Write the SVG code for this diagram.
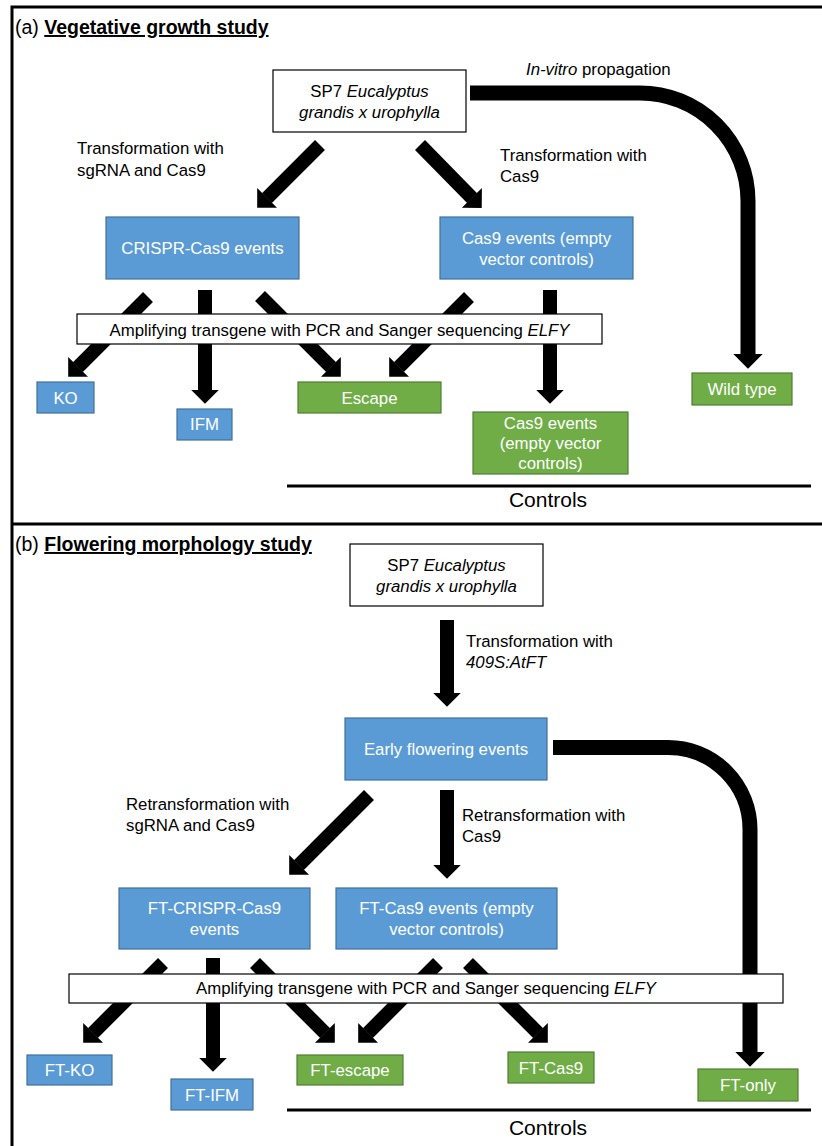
<svg xmlns="http://www.w3.org/2000/svg" width="822" height="1146" viewBox="0 0 822 1146">
<defs>
<style>
text{font-family:"Liberation Sans",Arial,sans-serif;font-size:16.8px;fill:#000}
.w{fill:#fff;text-anchor:middle}
.c{text-anchor:middle}
.blue{fill:#5B9BD5;stroke:#41719C;stroke-width:1.2}
.green{fill:#70AD47;stroke:#507E32;stroke-width:1.2}
.plain{fill:#fff;stroke:#000;stroke-width:1.2}
.arr{stroke:#000;stroke-width:14;fill:none;marker-end:url(#head)}
.carr{stroke:#000;stroke-width:15;fill:none;marker-end:url(#head)}
.title{font-size:19.5px}
.ctl{font-size:21px;text-anchor:middle}
</style>
<marker id="head" viewBox="0 0 1 2" refX="0.02" refY="1" markerWidth="1" markerHeight="2" markerUnits="strokeWidth" orient="auto">
<path d="M0,0 L1,1 L0,2 Z" fill="#000"/>
</marker>
</defs>
<rect x="0" y="0" width="822" height="1146" fill="#fff"/>
<g id="frame" fill="none" stroke="#000" stroke-width="3">
<path d="M12,1160 V7 H830"/>
<line x1="12" y1="524" x2="830" y2="524"/>
</g>
<g id="titles">
<text x="15" y="34" class="title">(a) <tspan font-weight="bold" text-decoration="underline">Vegetative growth study</tspan></text>
<text x="15" y="551" class="title">(b) <tspan font-weight="bold" text-decoration="underline">Flowering morphology study</tspan></text>
</g>
<g id="connectors">
<line class="arr" x1="320" y1="145" x2="266.9" y2="198.1"/>
<line class="arr" x1="420" y1="145" x2="472.1" y2="198.1"/>
<path class="carr" d="M470,93 H640 A108,108 0 0 1 748,201 V354"/>
<line class="arr" x1="148" y1="297" x2="77.9" y2="367.1"/>
<line class="arr" x1="205" y1="290" x2="205" y2="390"/>
<line class="arr" x1="260" y1="296" x2="331.1" y2="367.1"/>
<line class="arr" x1="469" y1="297" x2="398.9" y2="367.1"/>
<line class="arr" x1="550" y1="290" x2="550" y2="390"/>
<line class="arr" x1="447" y1="620" x2="447" y2="693"/>
<line class="arr" x1="369" y1="795" x2="298.9" y2="865.1"/>
<line class="arr" x1="447" y1="790" x2="447" y2="865"/>
<path class="carr" d="M553,747.5 H668 A82,82 0 0 1 750,829.5 V1052"/>
<line class="arr" x1="163" y1="963" x2="92.9" y2="1033.1"/>
<line class="arr" x1="213" y1="958" x2="213" y2="1058"/>
<line class="arr" x1="255" y1="963" x2="325.1" y2="1033.1"/>
<line class="arr" x1="438" y1="963" x2="367.9" y2="1033.1"/>
<line class="arr" x1="468" y1="963" x2="538.1" y2="1033.1"/>
</g>
<g id="edge-labels">
<text x="526" y="75"><tspan font-style="italic">In-vitro</tspan> propagation</text>
<text x="77" y="154">Transformation with</text>
<text x="77" y="176">sgRNA and Cas9</text>
<text x="500" y="161">Transformation with</text>
<text x="500" y="182">Cas9</text>
<text x="466" y="647">Transformation with</text>
<text x="466" y="668" font-style="italic">409S:AtFT</text>
<text x="126" y="810">Retransformation with</text>
<text x="126" y="831">sgRNA and Cas9</text>
<text x="462" y="821">Retransformation with</text>
<text x="462" y="842">Cas9</text>
</g>
<g id="sp7-a">
<rect class="plain" x="273" y="70" width="193" height="62"/>
<text class="c" x="369.5" y="97">SP7 <tspan font-style="italic">Eucalyptus</tspan></text>
<text class="c" x="369.5" y="118" font-style="italic">grandis x urophylla</text>
</g>
<g id="crispr-a">
<rect class="blue" x="106" y="217" width="193" height="62"/>
<text class="w" x="202.5" y="254">CRISPR-Cas9 events</text>
</g>
<g id="cas9-a">
<rect class="blue" x="440" y="217" width="193" height="62"/>
<text class="w" x="536.5" y="244">Cas9 events (empty</text>
<text class="w" x="536.5" y="265">vector controls)</text>
</g>
<g id="amp-a">
<rect class="plain" x="77" y="314" width="525" height="30"/>
<text class="c" x="339.5" y="336">Amplifying transgene with PCR and Sanger sequencing <tspan font-style="italic">ELFY</tspan></text>
</g>
<g id="ko">
<rect class="blue" x="37" y="382" width="57" height="31"/>
<text class="w" x="65.5" y="404">KO</text>
</g>
<g id="ifm">
<rect class="blue" x="177" y="409" width="55" height="31"/>
<text class="w" x="204.5" y="430">IFM</text>
</g>
<g id="escape">
<rect class="green" x="298" y="382" width="143" height="31"/>
<text class="w" x="369.5" y="404">Escape</text>
</g>
<g id="cas9-ctrl">
<rect class="green" x="473" y="412" width="155" height="62"/>
<text class="w" x="550.5" y="429">Cas9 events</text>
<text class="w" x="550.5" y="449">(empty vector</text>
<text class="w" x="550.5" y="469">controls)</text>
</g>
<g id="wildtype">
<rect class="green" x="692" y="373" width="100" height="32"/>
<text class="w" x="742" y="395">Wild type</text>
</g>
<g id="controls-a">
<line x1="287" y1="486" x2="811" y2="486" stroke="#000" stroke-width="3"/>
<text class="ctl" x="548" y="507">Controls</text>
</g>
<g id="sp7-b">
<rect class="plain" x="350" y="544" width="193" height="62"/>
<text class="c" x="446.5" y="571">SP7 <tspan font-style="italic">Eucalyptus</tspan></text>
<text class="c" x="446.5" y="592" font-style="italic">grandis x urophylla</text>
</g>
<g id="early">
<rect class="blue" x="345" y="718" width="202" height="62"/>
<text class="w" x="446" y="755">Early flowering events</text>
</g>
<g id="ft-crispr">
<rect class="blue" x="119" y="888" width="191" height="61"/>
<text class="w" x="214.5" y="914">FT-CRISPR-Cas9</text>
<text class="w" x="214.5" y="935">events</text>
</g>
<g id="ft-cas9-ev">
<rect class="blue" x="336" y="888" width="221" height="61"/>
<text class="w" x="446.5" y="914">FT-Cas9 events (empty</text>
<text class="w" x="446.5" y="935">vector controls)</text>
</g>
<g id="amp-b">
<rect class="plain" x="69" y="974" width="714" height="29"/>
<text class="c" x="426" y="994">Amplifying transgene with PCR and Sanger sequencing <tspan font-style="italic">ELFY</tspan></text>
</g>
<g id="ft-ko">
<rect class="blue" x="27" y="1055" width="85" height="30"/>
<text class="w" x="69.5" y="1076">FT-KO</text>
</g>
<g id="ft-ifm">
<rect class="blue" x="171" y="1079" width="82" height="31"/>
<text class="w" x="212" y="1101">FT-IFM</text>
</g>
<g id="ft-escape">
<rect class="green" x="297" y="1055" width="106" height="30"/>
<text class="w" x="350" y="1076">FT-escape</text>
</g>
<g id="ft-cas9">
<rect class="green" x="508" y="1052" width="86" height="31"/>
<text class="w" x="551" y="1074">FT-Cas9</text>
</g>
<g id="ft-only">
<rect class="green" x="698" y="1069" width="100" height="32"/>
<text class="w" x="748" y="1091">FT-only</text>
</g>
<g id="controls-b">
<line x1="287" y1="1110" x2="811" y2="1110" stroke="#000" stroke-width="3"/>
<text class="ctl" x="548" y="1135">Controls</text>
</g>
</svg>
